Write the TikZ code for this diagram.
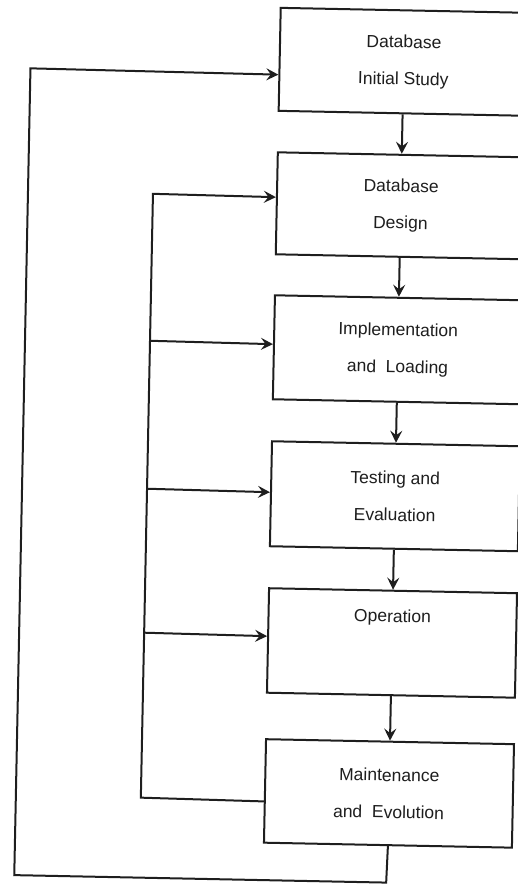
\documentclass[tikz,border=0pt]{standalone}
\usepackage{fontspec}
\setmainfont{Liberation Sans}
\usetikzlibrary{arrows.meta,calc}
\definecolor{ink}{HTML}{1E1E1E}
\begin{document}
\begin{tikzpicture}[x=1pt,y=-1pt,
  stage/.style={draw=ink, line width=2pt, minimum width=248pt, anchor=north west,
    align=center, inner sep=0pt, text=ink, font=\fontsize{17.5}{37}\selectfont},
  flow/.style={draw=ink, line width=2pt, -{Stealth[length=12pt,width=12pt,inset=4.5pt]}},
  link/.style={draw=ink, line width=2pt}]
\useasboundingbox (0,0) rectangle (518,885);
\clip (0,0) rectangle (518,885);
\begin{scope}[rotate around={-1.15:(259,442)}, transform shape]
  \node[stage, minimum height=103pt]   (b1) at (271,6.5) {Database\\Initial Study};
  \node[stage, minimum height=102pt]   (b2) at (271,151) {Database\\Design};
  \node[stage, minimum height=104pt]   (b3) at (271,294) {Implementation\\and\ \ Loading};
  \node[stage, minimum height=105pt]   (b4) at (271,440) {Testing and\\Evaluation};
  \node[stage, minimum height=104.5pt] (b5) at (271,587) {Operation\\[6pt]\strut};
  \node[stage, minimum height=103.5pt] (b6) at (271,738) {Maintenance\\and\ \ Evolution};

  \draw[flow] (b1.south) -- (b2.north);
  \draw[flow] (b2.south) -- (b3.north);
  \draw[flow] (b3.south) -- (b4.north);
  \draw[flow] (b4.south) -- (b5.north);
  \draw[flow] (b5.south) -- (b6.north);

  % inner feedback loop
  \coordinate (lt) at (148,196);
  \coordinate (lb) at (148,800);
  \coordinate (j3) at (148,343);
  \coordinate (j4) at (148,491);
  \coordinate (j5) at (148,635);
  \draw[flow] ($(b6.north west)!0.6!(b6.south west)$) -- (lb) -- (lt)
              -- ($(b2.north west)!0.441!(b2.south west)$);
  \draw[flow] (j3) -- ($(b3.north west)!0.471!(b3.south west)$);
  \draw[flow] (j4) -- ($(b4.north west)!0.486!(b4.south west)$);
  \draw[flow] (j5) -- ($(b5.north west)!0.46!(b5.south west)$);

  % outer feedback loop
  \coordinate (o1) at (395,880);
  \coordinate (o2) at (23,880);
  \coordinate (o3) at (23,73);
  \draw[flow] (b6.south) -- (o1) -- (o2) -- (o3)
              -- ($(b1.north west)!0.646!(b1.south west)$);
\end{scope}
\end{tikzpicture}
\end{document}
